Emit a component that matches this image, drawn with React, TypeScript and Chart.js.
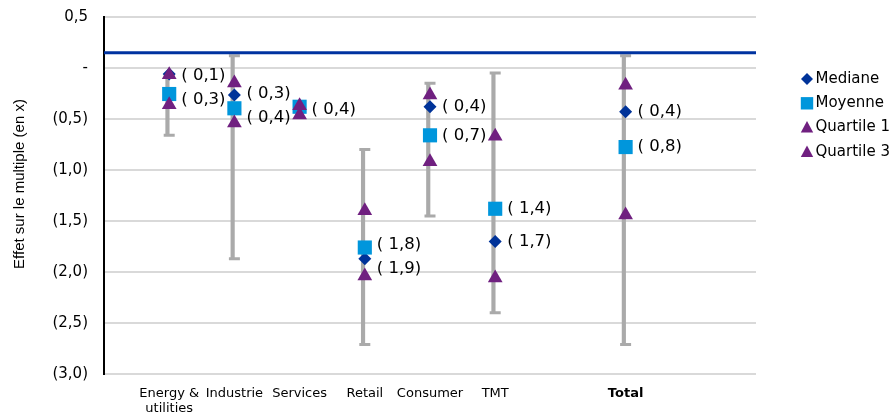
import React, { useEffect, useRef } from 'react';
import { Chart, registerables } from 'chart.js';

Chart.register(...registerables);

// Categories (blank slots keep Excel's spacing)
const categories: (string | string[])[] = ['', ['Energy &', 'utilities'], 'Industrie', 'Services', 'Retail', 'Consumer', 'TMT', '', 'Total', '', ''];

const medianValues = [null, -0.06, -0.265, -0.37, -1.87, -0.38, -1.70, null, -0.43, null, null];
const meanValues = [null, -0.255, -0.395, -0.38, -1.76, -0.66, -1.38, null, -0.775, null, null];
const quartile1Values = [null, -0.36, -0.54, -0.46, -2.04, -0.92, -2.06, null, -1.44, null, null];
const quartile3Values = [null, -0.065, -0.147, -0.37, -1.40, -0.265, -0.67, null, -0.17, null, null];
const rangeLow = [null, -0.66, -1.87, null, -2.71, -1.45, -2.40, null, -2.71, null, null];
const rangeHigh = [null, -0.07, 0.12, null, -0.80, -0.15, -0.05, null, 0.12, null, null];
const referenceLevel = 0.15;

const seriesNames = ['Mediane', 'Moyenne', 'Quartile 1', 'Quartile 3'];
const yTitle = 'Effet sur le multiple (en x)';

const C_MEDIAN = '#003399';
const C_MEAN = '#0096dc';
const C_QUART = '#702080';
const C_RANGE = '#aaaaaa';
const C_REF = '#0033a0';

const fmtNum = (v: number) => v.toFixed(1).replace('.', ',');
const fmtTick = (v: number) => (Math.abs(v) < 1e-9 ? '-' : v > 0 ? fmtNum(v) : `(${fmtNum(-v)})`);
const fmtLabel = (v: number) => `( ${fmtNum(Math.abs(v))})`;

function drawShape(ctx: CanvasRenderingContext2D, style: string, x: number, y: number, color: string) {
  ctx.fillStyle = color;
  ctx.beginPath();
  if (style === 'diamond') {
    ctx.moveTo(x - 6, y);
    ctx.lineTo(x, y - 6);
    ctx.lineTo(x + 6, y);
    ctx.lineTo(x, y + 6);
  } else if (style === 'square') {
    ctx.rect(x - 6.2, y - 6.2, 12.4, 12.4);
  } else {
    ctx.moveTo(x, y - 6.5);
    ctx.lineTo(x + 6.2, y + 5);
    ctx.lineTo(x - 6.2, y + 5);
  }
  ctx.closePath();
  ctx.fill();
}

const decorPlugin = {
  id: 'decor',
  afterDatasetsDraw(chart: any) {
    const ctx: CanvasRenderingContext2D = chart.ctx;
    const mMed = chart.getDatasetMeta(0);
    const mMean = chart.getDatasetMeta(1);
    ctx.save();
    ctx.font = '16.5px "DejaVu Sans"';
    ctx.fillStyle = '#000';
    ctx.textAlign = 'left';
    ctx.textBaseline = 'middle';
    for (let i = 0; i < categories.length; i++) {
      const vm = medianValues[i];
      const va = meanValues[i];
      if (vm == null || va == null) continue;
      const pm = mMed.data[i];
      const pa = mMean.data[i];
      const tm = fmtLabel(vm);
      const ta = fmtLabel(va);
      const x = pm.x + 12;
      let ym = pm.y;
      let ya = pa.y;
      if (tm === ta && Math.abs(ym - ya) < 12) {
        ctx.fillText(tm, x, Math.max(ym, ya) + 3);
        continue;
      }
      if (Math.abs(ym - ya) < 20) {
        const mid = (ym + ya) / 2 + 4;
        if (ym < ya) {
          ym = mid - 12;
          ya = mid + 12;
        } else {
          ya = mid - 12;
          ym = mid + 12;
        }
      }
      ctx.fillText(tm, x, ym);
      ctx.fillText(ta, x, ya);
    }
    ctx.restore();
  },
  afterDraw(chart: any) {
    const ctx: CanvasRenderingContext2D = chart.ctx;
    const area = chart.chartArea;
    ctx.save();
    // legend
    const styles = ['diamond', 'square', 'triangle', 'triangle'];
    const colors = [C_MEDIAN, C_MEAN, C_QUART, C_QUART];
    const mx = area.right + 51;
    ctx.font = '15px "DejaVu Sans"';
    ctx.textAlign = 'left';
    ctx.textBaseline = 'middle';
    seriesNames.forEach((name, k) => {
      const y = 79 + k * 24.3;
      drawShape(ctx, styles[k], mx, y, colors[k]);
      ctx.fillStyle = '#000';
      ctx.fillText(name, mx + 8.5, y);
    });
    // y title
    ctx.translate(20, 184);
    ctx.rotate(-Math.PI / 2);
    ctx.font = '15px "Liberation Sans"';
    ctx.textAlign = 'center';
    ctx.fillStyle = '#000';
    ctx.fillText(yTitle, 0, 0);
    ctx.restore();
  },
};

export default function App() {
  const ref = useRef<HTMLCanvasElement | null>(null);
  useEffect(() => {
    if (!ref.current) return;
    const chart = new Chart(ref.current, {
      type: 'bar',
      data: {
        labels: categories as any,
        datasets: [
          {
            type: 'line', label: seriesNames[0], data: medianValues as any, showLine: false,
            pointStyle: 'rectRot', pointRadius: 6.5, pointBorderWidth: 0,
            backgroundColor: C_MEDIAN, borderColor: C_MEDIAN, order: 4,
          },
          {
            type: 'line', label: seriesNames[1], data: meanValues as any, showLine: false,
            pointStyle: 'rect', pointRadius: 10, pointBorderWidth: 0,
            backgroundColor: C_MEAN, borderColor: C_MEAN, order: 3,
          },
          {
            type: 'line', label: seriesNames[2], data: quartile1Values as any, showLine: false,
            pointStyle: 'triangle', pointRadius: 8.5, pointBorderWidth: 0,
            backgroundColor: C_QUART, borderColor: C_QUART, order: 2,
          },
          {
            type: 'line', label: seriesNames[3], data: quartile3Values as any, showLine: false,
            pointStyle: 'triangle', pointRadius: 8.5, pointBorderWidth: 0,
            backgroundColor: C_QUART, borderColor: C_QUART, order: 1,
          },
          {
            type: 'bar', label: 'range',
            data: rangeLow.map((lo, i) => (lo == null || rangeHigh[i] == null ? null : [lo, rangeHigh[i]])) as any,
            backgroundColor: C_RANGE, borderWidth: 0, barThickness: 3.5, order: 7,
          },
          {
            type: 'line', label: 'low', data: rangeLow as any, showLine: false,
            pointStyle: 'line', pointRadius: 5.5, pointBorderWidth: 3,
            borderColor: C_RANGE, backgroundColor: C_RANGE, order: 6,
          },
          {
            type: 'line', label: 'high', data: rangeHigh as any, showLine: false,
            pointStyle: 'line', pointRadius: 5.5, pointBorderWidth: 3,
            borderColor: C_RANGE, backgroundColor: C_RANGE, order: 6,
          },
          {
            type: 'line', label: 'ref', xAxisID: 'x2',
            data: [{ x: 0, y: referenceLevel }, { x: 1, y: referenceLevel }] as any,
            borderColor: C_REF, borderWidth: 3, pointRadius: 0, order: 5,
          },
        ],
      },
      options: {
        animation: false,
        responsive: false,
        events: [],
        layout: { padding: { top: 17, right: 136, left: 0, bottom: 0 } },
        plugins: { legend: { display: false }, tooltip: { enabled: false } },
        scales: {
          x: {
            type: 'category',
            offset: false,
            grid: { display: false, drawTicks: false },
            border: { display: false },
            ticks: {
              autoSkip: false,
              maxRotation: 0,
              minRotation: 0,
              padding: 12,
              color: '#000',
              font: (c: any) => ({
                family: 'DejaVu Sans',
                size: 13,
                lineHeight: 1.15,
                weight: c.index === 8 ? 'bold' : 'normal',
              }),
            },
            afterFit: (s: any) => { s.height = 39; },
          },
          x2: { type: 'linear', min: 0, max: 1, display: false, offset: false },
          y: {
            min: -3,
            max: 0.5,
            ticks: {
              stepSize: 0.5,
              padding: 0,
              color: '#000',
              font: { family: 'DejaVu Sans', size: 15 },
              callback: (v: any) => fmtTick(Number(v)),
            },
            grid: { color: '#d9d9d9', lineWidth: 2, drawTicks: true, tickLength: 16, tickColor: 'rgba(0,0,0,0)' },
            border: { display: true, color: '#000', width: 2 },
            afterFit: (s: any) => { s.width = 104; },
          },
        },
      },
      plugins: [decorPlugin],
    } as any);
    return () => chart.destroy();
  }, []);
  return (
    <div style={{ position: 'fixed', left: 0, top: 0, width: 892, height: 413, background: '#fff' }}>
      <canvas ref={ref} width={892} height={413} style={{ display: 'block' }} />
    </div>
  );
}
